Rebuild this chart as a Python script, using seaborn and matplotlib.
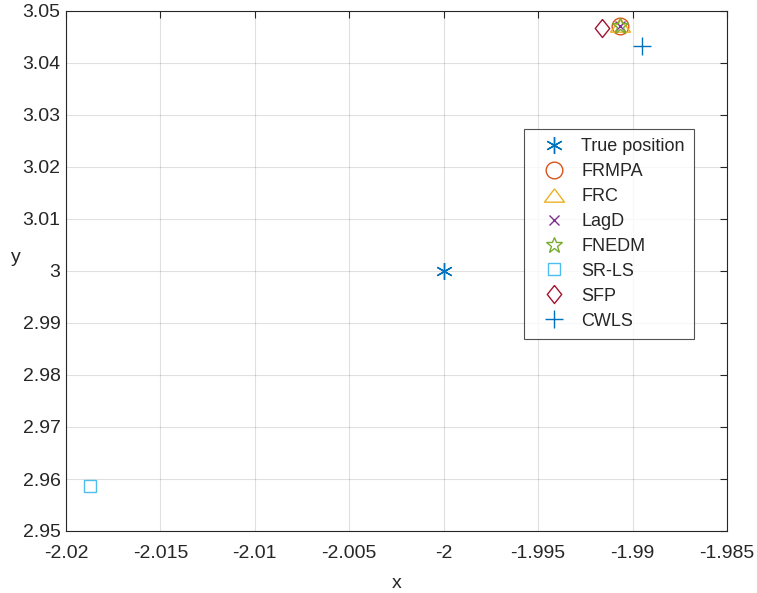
import matplotlib
matplotlib.use("Agg")
import matplotlib.pyplot as plt
import seaborn as sns

sns.set_theme(style="white")
plt.rcParams['font.family'] = ['Liberation Sans', 'DejaVu Sans']

names = ["True position", "FRMPA", "FRC", "LagD", "FNEDM", "SR-LS", "SFP", "CWLS"]
xs = [-2.0, -1.99067, -1.99067, -1.99067, -1.99067, -2.01873, -1.99164, -1.98949]
ys = [3.0, 3.04717, 3.04740, 3.04717, 3.04717, 2.95867, 3.04680, 3.04325]
colors = ["#0072BD", "#D95319", "#EDB120", "#7E2F8E", "#77AC30", "#4DBEEE", "#A2142F", "#0072BD"]
tri = [(0, 1), (-1.5, -1), (1.5, -1), (0, 1)]
dia = [(0, 1), (0.8, 0), (0, -1), (-0.8, 0), (0, 1)]
markers = [(6, 2, 0), "o", tri, "x", "*", "s", dia, "+"]
msizes = [12, 12, 14.4, 7.7, 12, 8.2, 13, 12.5]

xticks = [-2.02, -2.015, -2.01, -2.005, -2.0, -1.995, -1.99, -1.985]
xticklabels = ["-2.02", "-2.015", "-2.01", "-2.005", "-2", "-1.995", "-1.99", "-1.985"]
yticks = [2.95, 2.96, 2.97, 2.98, 2.99, 3.0, 3.01, 3.02, 3.03, 3.04, 3.05]
yticklabels = ["2.95", "2.96", "2.97", "2.98", "2.99", "3", "3.01", "3.02", "3.03", "3.04", "3.05"]

fig = plt.figure(figsize=(7.57, 5.93), dpi=100)
ax = fig.add_axes([66/757, 1-531/593, 661/757, 520/593])

for n, x, y, c, m, s in zip(names, xs, ys, colors, markers, msizes):
    sns.lineplot(x=[x], y=[y], ax=ax, marker=m, linestyle='none', color=c,
                 markerfacecolor='none', markeredgecolor=c, markersize=s,
                 markeredgewidth=1.0, label=n)

ax.set_xlim(-2.02, -1.985)
ax.set_ylim(2.95, 3.05)
ax.set_xticks(xticks)
ax.set_xticklabels(xticklabels)
ax.set_yticks(yticks)
ax.set_yticklabels(yticklabels)
ax.grid(True, color="#000000", alpha=0.12, linewidth=0.8)
ax.tick_params(direction='in', top=True, right=True, length=5, width=0.8,
               colors='#262626', labelsize=14)
ax.tick_params(axis='x', pad=10)
ax.tick_params(axis='y', pad=4)
for sp in ax.spines.values():
    sp.set_visible(True)
    sp.set_color('#262626')
    sp.set_linewidth(0.8)
ax.set_xlabel("x", fontsize=14, color='#262626', va='baseline')
ax.set_ylabel("y", fontsize=14, color='#262626', rotation=0, va='baseline', ha='center')
ax.xaxis.set_label_coords(0.5, -0.1096)
ax.yaxis.set_label_coords(-0.0756, 0.517)

leg = ax.legend(loc='upper right', bbox_to_anchor=(0.950, 0.773), fontsize=13,
                frameon=True, fancybox=False, edgecolor='#262626',
                borderpad=0.5, labelspacing=0.44, handletextpad=0.3, handlelength=2.4,
                borderaxespad=0)
leg.get_frame().set_linewidth(0.8)

fig.savefig("out.png", dpi=100)
